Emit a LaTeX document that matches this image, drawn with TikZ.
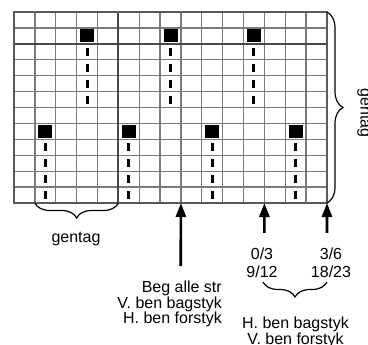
\documentclass[tikz,border=0pt]{standalone}
\usepackage{fontspec}
\setmainfont{Liberation Sans}
\usetikzlibrary{arrows.meta,decorations.pathreplacing}
\tikzset{
  gridline/.style={draw=black!52, line width=1.3pt},
  boldline/.style={draw=black!72, line width=2.3pt},
  frame/.style={draw=black!65, line width=1.5pt},
  stitch/.style={fill=black, minimum width=14pt, minimum height=13pt, inner sep=0pt},
  yarn/.style={line width=3pt},
  arrow/.style={line width=2.6pt, -{Triangle[length=14pt,width=10pt]}},
  lbl/.style={font=\fontsize{16}{15.3}\selectfont, inner sep=0pt},
  curly/.style={decorate, decoration={brace, amplitude=15pt}, line width=1.2pt},
}
\begin{document}
\begin{tikzpicture}[x=1pt,y=-1pt]
    \useasboundingbox (0,0) rectangle (368,345);
    % chart, one unit = one stitch
    \begin{scope}[shift={(14,12)},x=20.867pt,y=-15.917pt]
        \foreach \c in {0,...,15} \draw[gridline] (\c,0) -- (\c,12);
        \foreach \r in {0,...,12} \draw[gridline] (0,\r) -- (15,\r);
        \draw[boldline] (5,0) -- (5,12);
        \draw[boldline] (0,2) -- (15,2);
        \draw[frame] (0,0) rectangle (15,12);
        % upper pattern row
        \foreach \c in {3,7,11} {
            \node[stitch] (up\c) at (\c+.5,1.5) {};
            \foreach \r in {2,...,5} \draw[yarn] (\c+.5,\r+.25) -- (\c+.5,\r+.75);
        }
        % lower pattern row
        \foreach \c in {1,5,9,13} {
            \node[stitch] (low\c) at (\c+.5,7.5) {};
            \foreach \r in {8,...,11} \draw[yarn] (\c+.5,\r+.25) -- (\c+.5,\r+.75);
        }
        \coordinate (nw) at (15,0);
        \coordinate (se) at (15,12);
        \coordinate (b1) at (1,12);
        \coordinate (b5) at (5,12);
        \coordinate (b8) at (8,12);
        \coordinate (b12) at (12,12);
    \end{scope}
    % repeats
    \draw[curly,decoration={amplitude=16pt}] (nw) -- (se);
    \node[lbl,rotate=-90,anchor=base] (reprow) at (360.5,113) {gentag};
    \draw[curly] (b5) -- (b1);
    \node[lbl,anchor=base] (repst) at (76,243) {gentag};
    % start points
    \coordinate (begtail) at (180.7,266);
    \coordinate (sttail) at (264.4,233);
    \coordinate (endtail) at (327,233);
    \draw[arrow] (begtail) -- (b8);
    \draw[arrow] (sttail) -- (b12);
    \draw[arrow] (endtail) -- (se);
    \node[lbl,anchor=base east,align=right] (beg) at (222,323.5)
        {Beg alle str\\V. ben bagstyk\\H. ben forstyk};
    \node[lbl,anchor=base,align=center] (sizea) at (262,278) {0/3\\[2.7pt]9/12};
    \node[lbl,anchor=base,align=center] (sizeb) at (331,278) {3/6\\[2.7pt]18/23};
    \coordinate (bra) at (327,282);
    \coordinate (brb) at (263,282);
    \draw[curly] (bra) -- (brb);
    \node[lbl,anchor=base,align=center] (other) at (295.5,344.5)
        {H. ben bagstyk\\[0.7pt]V. ben forstyk};
\end{tikzpicture}
\end{document}
